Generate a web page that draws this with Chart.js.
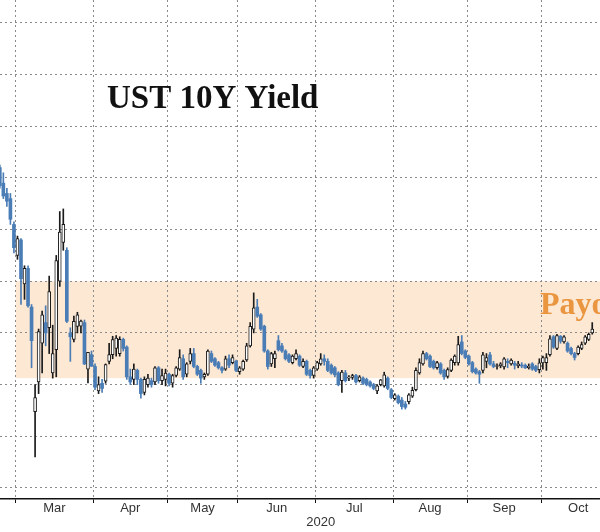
<!DOCTYPE html>
<html>
<head>
<meta charset="utf-8">
<script src="https://cdn.jsdelivr.net/npm/chart.js"></script>
<style>
  html, body { margin: 0; padding: 0; background: #fff; }
  #wrap { width: 600px; height: 532px; }
</style>
</head>
<body>
<div id="wrap"><canvas id="chart" width="600" height="532"></canvas></div>
<script>
// trading days shown (the crop starts on Feb 24 and ends on Oct 21)
const days = [
  '2020-02-24','2020-02-25','2020-02-26','2020-02-27','2020-02-28',
  '2020-03-02','2020-03-03','2020-03-04','2020-03-05','2020-03-06','2020-03-09','2020-03-10','2020-03-11',
  '2020-03-12','2020-03-13','2020-03-16','2020-03-17','2020-03-18','2020-03-19','2020-03-20','2020-03-23',
  '2020-03-24','2020-03-25','2020-03-26','2020-03-27','2020-03-30','2020-03-31',
  '2020-04-01','2020-04-02','2020-04-03','2020-04-06','2020-04-07','2020-04-08','2020-04-09','2020-04-13',
  '2020-04-14','2020-04-15','2020-04-16','2020-04-17','2020-04-20','2020-04-21','2020-04-22','2020-04-23',
  '2020-04-24','2020-04-27','2020-04-28','2020-04-29','2020-04-30',
  '2020-05-01','2020-05-04','2020-05-05','2020-05-06','2020-05-07','2020-05-08','2020-05-11','2020-05-12',
  '2020-05-13','2020-05-14','2020-05-15','2020-05-18','2020-05-19','2020-05-20','2020-05-21','2020-05-22',
  '2020-05-26','2020-05-27','2020-05-28','2020-05-29',
  '2020-06-01','2020-06-02','2020-06-03','2020-06-04','2020-06-05','2020-06-08','2020-06-09','2020-06-10',
  '2020-06-11','2020-06-12','2020-06-15','2020-06-16','2020-06-17','2020-06-18','2020-06-19','2020-06-22',
  '2020-06-23','2020-06-24','2020-06-25','2020-06-26','2020-06-29','2020-06-30',
  '2020-07-01','2020-07-02','2020-07-06','2020-07-07','2020-07-08','2020-07-09','2020-07-10','2020-07-13',
  '2020-07-14','2020-07-15','2020-07-16','2020-07-17','2020-07-20','2020-07-21','2020-07-22','2020-07-23',
  '2020-07-24','2020-07-27','2020-07-28','2020-07-29','2020-07-30','2020-07-31',
  '2020-08-03','2020-08-04','2020-08-05','2020-08-06','2020-08-07','2020-08-10','2020-08-11','2020-08-12',
  '2020-08-13','2020-08-14','2020-08-17','2020-08-18','2020-08-19','2020-08-20','2020-08-21','2020-08-24',
  '2020-08-25','2020-08-26','2020-08-27','2020-08-28','2020-08-31',
  '2020-09-01','2020-09-02','2020-09-03','2020-09-04','2020-09-08','2020-09-09','2020-09-10','2020-09-11',
  '2020-09-14','2020-09-15','2020-09-16','2020-09-17','2020-09-18','2020-09-21','2020-09-22','2020-09-23',
  '2020-09-24','2020-09-25','2020-09-28','2020-09-29','2020-09-30',
  '2020-10-01','2020-10-02','2020-10-05','2020-10-06','2020-10-07','2020-10-08','2020-10-09','2020-10-12',
  '2020-10-13','2020-10-14','2020-10-15','2020-10-16','2020-10-19','2020-10-20','2020-10-21'
];

// yield in %, one row per month
const open = [
  1.44, 1.38, 1.34, 1.32, 1.22,
  1.10, 1.16, 0.99, 1.05, 0.90, 0.495, 0.61, 0.76, 0.84, 0.82, 0.645, 0.735, 1.00, 1.15, 1.12, 0.80, 0.775, 0.825, 0.826, 0.84, 0.66, 0.716,
  0.67, 0.575, 0.605, 0.613, 0.69, 0.716, 0.74, 0.72, 0.775, 0.745, 0.63, 0.62, 0.655, 0.62, 0.57, 0.60, 0.615, 0.61, 0.665, 0.615, 0.62,
  0.64, 0.605, 0.635, 0.66, 0.70, 0.64, 0.69, 0.72, 0.67, 0.655, 0.63, 0.64, 0.72, 0.70, 0.685, 0.665, 0.66, 0.70, 0.685, 0.69,
  0.65, 0.66, 0.695, 0.75, 0.815, 0.90, 0.87, 0.826, 0.73, 0.68, 0.70, 0.77, 0.75, 0.73, 0.715, 0.685, 0.70, 0.71, 0.67, 0.69, 0.655, 0.635,
  0.66, 0.68, 0.70, 0.69, 0.675, 0.665, 0.645, 0.615, 0.645, 0.625, 0.628, 0.635, 0.615, 0.625, 0.62, 0.61, 0.60, 0.575, 0.60, 0.595, 0.625, 0.58,
  0.545, 0.555, 0.54, 0.525, 0.534, 0.555, 0.58, 0.645, 0.68, 0.72, 0.71, 0.69, 0.665, 0.68, 0.655, 0.632, 0.655, 0.685, 0.684, 0.765, 0.73,
  0.71, 0.685, 0.66, 0.65, 0.655, 0.69, 0.715, 0.68, 0.67, 0.672, 0.668, 0.69, 0.68, 0.682, 0.672, 0.675, 0.675, 0.665, 0.68, 0.67, 0.658,
  0.684, 0.685, 0.716, 0.785, 0.74, 0.787, 0.765, 0.76, 0.74, 0.72, 0.72, 0.74, 0.76, 0.775, 0.80
];
const high = [
  1.45, 1.42, 1.36, 1.34, 1.23,
  1.175, 1.165, 1.06, 1.06, 0.91, 0.60, 0.815, 0.885, 0.905, 1.02, 0.83, 1.10, 1.27, 1.28, 1.13, 0.82, 0.865, 0.88, 0.85, 0.85, 0.725, 0.73,
  0.68, 0.63, 0.62, 0.68, 0.76, 0.787, 0.79, 0.785, 0.78, 0.75, 0.66, 0.68, 0.66, 0.625, 0.63, 0.64, 0.625, 0.67, 0.67, 0.66, 0.66,
  0.645, 0.64, 0.67, 0.735, 0.715, 0.685, 0.74, 0.74, 0.675, 0.66, 0.645, 0.735, 0.73, 0.705, 0.69, 0.67, 0.71, 0.715, 0.715, 0.695,
  0.67, 0.695, 0.76, 0.84, 0.955, 0.93, 0.875, 0.83, 0.735, 0.725, 0.73, 0.79, 0.76, 0.735, 0.72, 0.715, 0.735, 0.715, 0.70, 0.695, 0.66, 0.67,
  0.69, 0.72, 0.715, 0.70, 0.68, 0.67, 0.65, 0.655, 0.655, 0.635, 0.64, 0.64, 0.635, 0.63, 0.625, 0.615, 0.605, 0.60, 0.62, 0.648, 0.63, 0.585,
  0.565, 0.56, 0.55, 0.535, 0.565, 0.59, 0.665, 0.70, 0.73, 0.725, 0.715, 0.695, 0.69, 0.685, 0.66, 0.665, 0.70, 0.715, 0.787, 0.79, 0.735,
  0.715, 0.69, 0.665, 0.655, 0.725, 0.72, 0.725, 0.69, 0.68, 0.685, 0.705, 0.70, 0.70, 0.69, 0.69, 0.685, 0.68, 0.68, 0.685, 0.675, 0.70,
  0.71, 0.72, 0.79, 0.79, 0.795, 0.79, 0.79, 0.765, 0.745, 0.725, 0.75, 0.765, 0.79, 0.80, 0.84
];
const low = [
  1.36, 1.32, 1.29, 1.22, 1.11,
  1.085, 0.91, 0.93, 0.90, 0.665, 0.32, 0.565, 0.645, 0.75, 0.72, 0.625, 0.63, 0.98, 1.12, 0.84, 0.69, 0.765, 0.80, 0.80, 0.677, 0.606, 0.67,
  0.58, 0.565, 0.57, 0.605, 0.68, 0.70, 0.71, 0.71, 0.73, 0.62, 0.60, 0.60, 0.60, 0.547, 0.56, 0.59, 0.59, 0.60, 0.605, 0.60, 0.595,
  0.595, 0.59, 0.63, 0.655, 0.62, 0.63, 0.68, 0.665, 0.635, 0.605, 0.62, 0.635, 0.685, 0.67, 0.66, 0.645, 0.655, 0.665, 0.68, 0.65,
  0.64, 0.655, 0.69, 0.745, 0.80, 0.86, 0.81, 0.725, 0.66, 0.67, 0.665, 0.73, 0.725, 0.695, 0.685, 0.68, 0.695, 0.67, 0.665, 0.635, 0.625, 0.625,
  0.655, 0.675, 0.675, 0.65, 0.64, 0.63, 0.595, 0.57, 0.61, 0.615, 0.62, 0.605, 0.61, 0.60, 0.595, 0.59, 0.58, 0.565, 0.595, 0.59, 0.58, 0.545,
  0.54, 0.525, 0.505, 0.505, 0.525, 0.55, 0.575, 0.64, 0.675, 0.695, 0.665, 0.66, 0.66, 0.64, 0.62, 0.625, 0.65, 0.675, 0.675, 0.715, 0.70,
  0.675, 0.645, 0.64, 0.605, 0.645, 0.665, 0.675, 0.665, 0.66, 0.665, 0.66, 0.665, 0.675, 0.66, 0.665, 0.665, 0.662, 0.66, 0.655, 0.65, 0.645,
  0.66, 0.655, 0.71, 0.74, 0.735, 0.76, 0.76, 0.725, 0.715, 0.695, 0.715, 0.735, 0.755, 0.77, 0.795
];
const close = [
  1.37, 1.33, 1.31, 1.24, 1.13,
  1.165, 1.01, 1.05, 0.905, 0.77, 0.55, 0.805, 0.87, 0.80, 0.96, 0.72, 1.08, 1.19, 1.22, 0.845, 0.785, 0.845, 0.87, 0.846, 0.68, 0.725, 0.671,
  0.59, 0.60, 0.585, 0.677, 0.716, 0.774, 0.78, 0.775, 0.74, 0.63, 0.61, 0.66, 0.62, 0.565, 0.62, 0.625, 0.60, 0.665, 0.615, 0.635, 0.645,
  0.605, 0.635, 0.665, 0.705, 0.63, 0.68, 0.72, 0.67, 0.64, 0.625, 0.64, 0.73, 0.69, 0.675, 0.665, 0.655, 0.70, 0.675, 0.705, 0.655,
  0.665, 0.69, 0.75, 0.826, 0.897, 0.865, 0.815, 0.73, 0.67, 0.72, 0.72, 0.735, 0.73, 0.70, 0.69, 0.71, 0.72, 0.675, 0.69, 0.64, 0.635, 0.665,
  0.685, 0.70, 0.69, 0.655, 0.645, 0.638, 0.60, 0.648, 0.615, 0.628, 0.635, 0.61, 0.63, 0.605, 0.60, 0.595, 0.585, 0.595, 0.618, 0.638, 0.585, 0.55,
  0.56, 0.53, 0.515, 0.512, 0.56, 0.578, 0.655, 0.685, 0.72, 0.70, 0.67, 0.665, 0.685, 0.645, 0.63, 0.658, 0.695, 0.71, 0.755, 0.72, 0.705,
  0.68, 0.65, 0.645, 0.64, 0.715, 0.705, 0.68, 0.67, 0.672, 0.68, 0.70, 0.685, 0.695, 0.675, 0.68, 0.672, 0.665, 0.672, 0.66, 0.655, 0.684,
  0.705, 0.705, 0.777, 0.745, 0.79, 0.768, 0.785, 0.73, 0.72, 0.705, 0.745, 0.755, 0.785, 0.795, 0.815
];

const monthNames = ['Jan', 'Feb', 'Mar', 'Apr', 'May', 'Jun', 'Jul', 'Aug', 'Sep', 'Oct', 'Nov', 'Dec'];
const yTicks = [0.2, 0.4, 0.6, 0.8, 1.0, 1.2, 1.4, 1.6, 1.8, 2.0];
const bandRange = [0.625, 1.0];
const bandFrom = '2020-03-02';
const titleText = 'UST 10Y Yield';
const bandText = 'Payo';
const yearText = '2020';
const yearAt = 91;          // day index the year label sits under
const lastMonthDays = 21;   // the last month is cut off, centre its label as a full month

// visible window (the picture is a crop of a wider chart)
const xMin = 0.05, xMax = 170.2;
const yMin = 0.157, yMax = 2.089;

const UP_EDGE = '#1a1a1a';
const DOWN = '#4a7db6';
const GRID = '#8a8a8a';
const BAND = '#fde8d4';
const LABEL_FONT = "'Liberation Sans', Arial, sans-serif";

// month boundaries and label positions, from the day list
const monthOf = days.map((d) => +d.slice(5, 7));
const boundaries = [];
const monthTicks = [];
let start = 0;
for (let i = 1; i <= days.length; i++) {
  if (i === days.length || monthOf[i] !== monthOf[i - 1]) {
    if (start > 0) {
      const len = i === days.length ? Math.max(i - start, lastMonthDays) : i - start;
      monthTicks.push({ at: start - 0.5 + len / 2, label: monthNames[monthOf[start] - 1] });
    }
    if (i < days.length) boundaries.push(i - 0.5);
    start = i;
  }
}

const up = close.map((c, i) => c >= open[i]);
const bodies = days.map((d, i) => ({ x: i, y: [open[i], close[i]] }));
const wicks = days.map((d, i) => ({ x: i, y: [low[i], high[i]] }));

const decorations = {
  id: 'decorations',
  beforeDraw(chart) {
    const { ctx, chartArea, scales } = chart;
    const left = scales.x.getPixelForValue(days.indexOf(bandFrom) - 0.5);
    const top = scales.y.getPixelForValue(bandRange[1]);
    const bottom = scales.y.getPixelForValue(bandRange[0]);
    ctx.save();
    ctx.fillStyle = BAND;
    ctx.fillRect(left, top, chartArea.right - left, bottom - top);
    ctx.restore();
  },
  afterDraw(chart) {
    const { ctx, scales } = chart;
    ctx.save();
    ctx.textBaseline = 'alphabetic';
    ctx.fillStyle = '#111';
    ctx.font = "bold 33px 'Liberation Serif', 'Times New Roman', serif";
    ctx.fillText(titleText, 107, 108);
    ctx.fillStyle = '#ea9540';
    ctx.font = "bold 32px 'Liberation Serif', 'Times New Roman', serif";
    ctx.fillText(bandText, 540, 314);
    ctx.fillStyle = '#333';
    ctx.font = '13px ' + LABEL_FONT;
    ctx.textAlign = 'center';
    ctx.textBaseline = 'middle';
    ctx.fillText(yearText, scales.x.getPixelForValue(yearAt), 522);
    ctx.restore();
  },
};

new Chart(document.getElementById('chart'), {
  type: 'bar',
  data: {
    datasets: [
      {
        label: 'body',
        data: bodies,
        order: 0,
        grouped: false,
        barThickness: 3,
        minBarLength: 1,
        borderSkipped: false,
        backgroundColor: up.map((u) => (u ? '#ffffff' : DOWN)),
        borderColor: up.map((u) => (u ? UP_EDGE : DOWN)),
        borderWidth: up.map((u) => (u ? 1 : 0)),
      },
      {
        label: 'wick',
        data: wicks,
        order: 1,
        grouped: false,
        barThickness: 1,
        borderWidth: 0,
        backgroundColor: up.map((u) => (u ? UP_EDGE : DOWN)),
      },
    ],
  },
  options: {
    responsive: false,
    animation: false,
    devicePixelRatio: 1,
    layout: { padding: 0 },
    plugins: {
      legend: { display: false },
      tooltip: { enabled: false },
    },
    scales: {
      x: {
        type: 'linear',
        position: 'bottom',
        weight: 0,
        min: xMin,
        max: xMax,
        offset: false,
        afterBuildTicks: (s) => { s.ticks = boundaries.map((v) => ({ value: v })); },
        afterFit: (s) => { s.height = 4; },
        ticks: { display: false },
        grid: {
          color: GRID,
          lineWidth: 1,
          offset: false,
          drawTicks: true,
          tickLength: 4,
          tickColor: '#111',
          tickWidth: 1,
          tickBorderDash: [],
        },
        border: { display: true, color: '#111', width: 1.5, dash: [2, 3] },
      },
      xl: {
        type: 'linear',
        position: 'bottom',
        weight: 1,
        min: xMin,
        max: xMax,
        offset: false,
        afterBuildTicks: (s) => { s.ticks = monthTicks.map((t) => ({ value: t.at })); },
        afterFit: (s) => { s.height = 29; },
        ticks: {
          autoSkip: false,
          maxRotation: 0,
          padding: -2,
          color: '#333',
          font: { family: LABEL_FONT, size: 13 },
          callback: (value, index) => (monthTicks[index] ? monthTicks[index].label : ''),
        },
        grid: { display: false, drawTicks: false },
        border: { display: false },
      },
      y: {
        type: 'linear',
        position: 'left',
        min: yMin,
        max: yMax,
        afterBuildTicks: (s) => { s.ticks = yTicks.map((v) => ({ value: v })); },
        afterFit: (s) => { s.width = 0; },
        ticks: { display: false },
        grid: { color: GRID, lineWidth: 1, drawTicks: false },
        border: { display: false, dash: [2, 3] },
      },
    },
  },
  plugins: [decorations],
});
</script>
</body>
</html>
